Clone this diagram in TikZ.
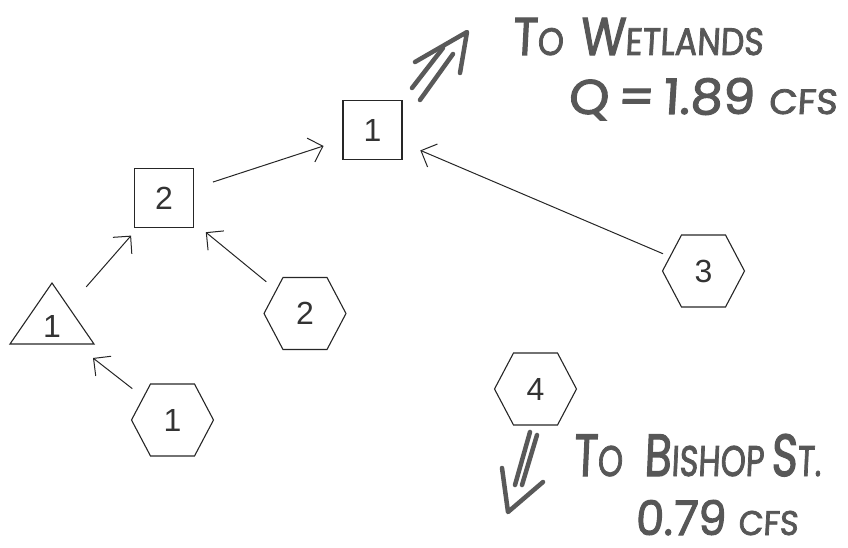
\documentclass[tikz,border=0pt]{standalone}
\usepackage{fontspec}
\setmainfont{Liberation Sans}
\newfontfamily\handfont[FakeSlant=0.06,FakeBold=2.2]{Poppins}
\usetikzlibrary{arrows.meta}
% lettering sizes for the hand-written notes
\newcommand\capsz[1]{{\fontsize{50}{50}\selectfont #1}}
\newcommand\smsz[1]{{\fontsize{36}{36}\selectfont #1}}
% outline of a flat-topped hexagon around a named node
\newcommand\hexaround[1]{\draw[outline] (#1.center) ++(-41,0) -- ++(19,-36) -- ++(44,0) -- ++(19,36) -- ++(-19,36) -- ++(-44,0) -- cycle;}
\begin{document}
\begin{tikzpicture}[x=1pt,y=-1pt,
  outline/.style={draw=black!85, line width=1.1pt, line join=miter},
  box/.style={outline, minimum size=59pt, inner sep=0pt},
  digit/.style={font=\fontsize{32}{32}\selectfont, text=black!80, inner sep=0pt},
  flow/.style={draw=black!85, line width=1pt,
    -{Straight Barb[length=12.5pt,width=25pt,line width=1pt]},
    shorten <=51pt, shorten >=51pt},
  pencil/.style={draw=black!65, line width=4.5pt, line cap=round, line join=round},
  hand/.style={text=black!66, font=\handfont, inner sep=0pt}]
\useasboundingbox (0,0) rectangle (848,548);

% junction boxes
\node[box, digit] (s1) at (372.5,130) {1};
\node[box, digit] (s2) at (164,198) {2};

% triangle node
\node[digit] (tri) at (52,326) {1};
\draw[outline] (tri.center) ++(0,-43) -- ++(42,61) -- ++(-84,0) -- cycle;

% hexagon nodes
\node[digit] (h1) at (172.5,420) {1};
\node[digit] (h2) at (305,313.5) {2};
\node[digit] (h3) at (703.5,271) {3};
\node[digit] (h4) at (535.5,389) {4};
\hexaround{h1}
\hexaround{h2}
\hexaround{h3}
\hexaround{h4}

% flow connectors
\draw[flow, shorten <=51pt, shorten >=52pt] (h1.center) -- (tri.center);
\draw[flow, shorten <=52pt, shorten >=50pt] (tri.center) -- (s2.center);
\draw[flow, shorten <=50pt, shorten >=54pt] (h2.center) -- (s2.center);
\draw[flow, shorten <=51.5pt, shorten >=51.5pt] (s2.center) -- (s1.center);
\draw[flow, shorten <=44pt, shorten >=52pt] (h3.center) -- (s1.center);

% outflow to the wetlands
\coordinate (wa1) at (412,88);  \coordinate (wb1) at (443,48);
\coordinate (wa2) at (420,100); \coordinate (wb2) at (453,54);
\coordinate (wtip) at (467,32);
\draw[pencil] (wa1) -- (wb1);
\draw[pencil] (wa2) -- (wb2);
\draw[pencil] (415,62) -- (wtip) -- (460,73);

% outflow to Bishop St.
\coordinate (ba1) at (530,432); \coordinate (bb1) at (515,485);
\coordinate (ba2) at (537,435); \coordinate (bb2) at (522,485);
\coordinate (btip) at (508,512);
\draw[pencil] (ba1) -- (bb1);
\draw[pencil] (ba2) -- (bb2);
\draw[pencil] (502,468) -- (btip) -- (543,482);

% notes
\node[hand, anchor=base west] (wet) at (512,55)
  {\resizebox{251pt}{37pt}{\capsz{T}\smsz{O}\hspace{18pt}\capsz{W}\smsz{ETLANDS}}};
\node[hand, anchor=base west] (q) at (568,114)
  {\resizebox{269pt}{36pt}{\capsz{Q\,=\,1.89}\hspace{14pt}\smsz{CFS}}};
\node[hand, anchor=base west] (bish) at (573,476)
  {\resizebox{248pt}{42pt}{\capsz{T}\smsz{O}\hspace{24pt}\capsz{B}\smsz{ISHOP}\hspace{8pt}\capsz{S}\smsz{T.}}};
\node[hand, anchor=base west] (flow2) at (635,535)
  {\resizebox{163pt}{35pt}{\capsz{0.79}\hspace{14pt}\smsz{CFS}}};
\end{tikzpicture}
\end{document}
